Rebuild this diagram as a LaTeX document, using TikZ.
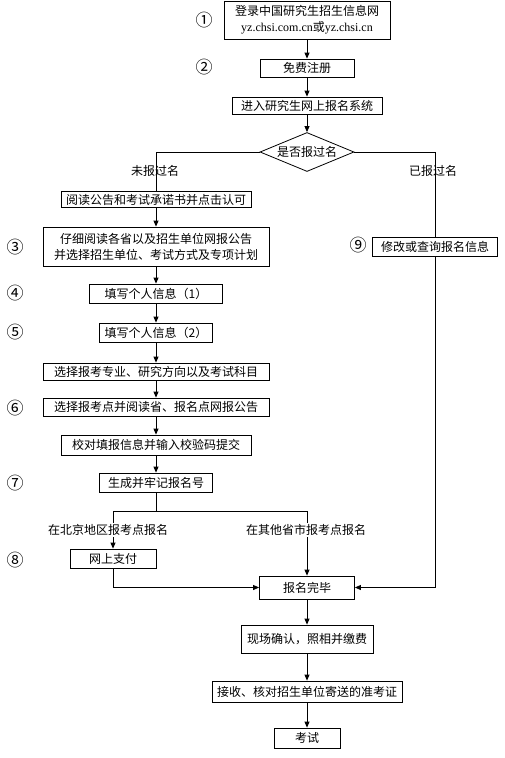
\documentclass[tikz,border=0pt]{standalone}
\usepackage{fontspec}
\setmainfont{Liberation Serif}
\newfontfamily\cjk{Noto Sans CJK SC}
\usetikzlibrary{shapes.geometric,arrows.meta}
\begin{document}
\begin{tikzpicture}[x=1pt,y=-1pt,
 box/.style={draw,line width=0.8pt,inner sep=0pt,align=center,font=\cjk\fontsize{12}{16}\selectfont},
 num/.style={inner sep=0pt,font=\cjk\fontsize{17}{17}\selectfont},
 lbl/.style={inner sep=1pt,font=\cjk\fontsize{12}{14}\selectfont},
 con/.style={line width=0.8pt},
 arr/.style={line width=0.8pt,-{Triangle[length=6pt,width=5pt]}}]
\useasboundingbox (0,0) rectangle (505,758);
% centre column
\node[box,minimum width=166pt,minimum height=38pt] (n1) at (307,20) {登录中国研究生招生信息网\\{\rmfamily yz.chsi.com.cn}或{\rmfamily yz.chsi.cn}};
\node[box,minimum width=94pt,minimum height=18pt] (n2) at (307,68) {免费注册};
\node[box,minimum width=150pt,minimum height=17pt] (n3) at (307,105.5) {进入研究生网上报名系统};
\node[box,diamond,aspect=2.4,minimum width=94pt,minimum height=39pt] (d) at (307,152) {是否报过名};
% left column
\node[box,minimum width=190pt,minimum height=16pt] (a1) at (156,199.5) {阅读公告和考试承诺书并点击认可};
\node[box,minimum width=226pt,minimum height=39pt] (a2) at (156,246.5) {仔细阅读各省以及招生单位网报公告\\并选择招生单位、考试方式及专项计划};
\node[box,minimum width=133pt,minimum height=19pt] (a3) at (156,293.5) {填写个人信息（1）};
\node[box,minimum width=113pt,minimum height=19pt] (a4) at (156,332.5) {填写个人信息（2）};
\node[box,minimum width=226pt,minimum height=17pt] (a5) at (156,371.5) {选择报考专业、研究方向以及考试科目};
\node[box,minimum width=226pt,minimum height=18pt] (a6) at (156,407) {选择报考点并阅读省、报名点网报公告};
\node[box,minimum width=190pt,minimum height=20pt] (a7) at (156,445) {校对填报信息并输入校验码提交};
\node[box,minimum width=113pt,minimum height=19pt] (a8) at (156,482.5) {生成并牢记报名号};
\node[box,minimum width=86pt,minimum height=19pt] (a9) at (113,558.5) {网上支付};
% right column
\node[box,minimum width=125pt,minimum height=19pt] (r1) at (435,246.5) {修改或查询报名信息};
% bottom
\node[box,minimum width=95pt,minimum height=23pt] (c1) at (307,587.5) {报名完毕};
\node[box,minimum width=132pt,minimum height=28pt] (c2) at (307,639) {现场确认，照相并缴费};
\node[box,minimum width=190pt,minimum height=21pt] (c3) at (307,691.5) {接收、核对招生单位寄送的准考证};
\node[box,minimum width=66pt,minimum height=20pt] (c4) at (307,738) {考试};
% numbers
\node[num] (k1) at (204,20) {①};
\node[num] (k2) at (204,67) {②};
\node[num] (k3) at (15,247) {③};
\node[num] (k4) at (15,293) {④};
\node[num] (k5) at (15,332) {⑤};
\node[num] (k6) at (15,408) {⑥};
\node[num] (k7) at (15,483) {⑦};
\node[num] (k8) at (15,560) {⑧};
\node[num] (k9) at (358,245) {⑨};
% connectors
\draw[arr] (n1) -- (n2);
\draw[arr] (n2) -- (n3);
\draw[arr] (n3) -- (d);
\draw[con] (d.west) -| (a1.north);
\draw[con] (d.east) -| (r1.north);
\draw[arr] (a1) -- (a2);
\draw[arr] (a2) -- (a3);
\draw[arr] (a3) -- (a4);
\draw[arr] (a4) -- (a5);
\draw[arr] (a5) -- (a6);
\draw[arr] (a6) -- (a7);
\draw[arr] (a7) -- (a8);
\coordinate (bm) at (156,511);
\coordinate (bl) at (113,511);
\coordinate (br) at (307,511);
\draw[con] (a8.south) -- (bm);
\draw[con] (bl) -- (br);
\draw[arr] (bl) -- (a9.north);
\draw[arr] (br) -- (c1.north);
\draw[arr] (a9.south) |- (c1.west);
\draw[arr] (r1.south) |- (c1.east);
\draw[arr] (c1) -- (c2);
\draw[arr] (c2) -- (c3);
\draw[arr] (c3) -- (c4);
% labels
\node[lbl] (l1) at (155,171) {未报过名};
\node[lbl] (l2) at (433,171) {已报过名};
\node[lbl,fill=white] (l3) at (108,530) {在北京地区报考点报名};
\node[lbl,fill=white] (l4) at (306,530) {在其他省市报考点报名};
\end{tikzpicture}
\end{document}
